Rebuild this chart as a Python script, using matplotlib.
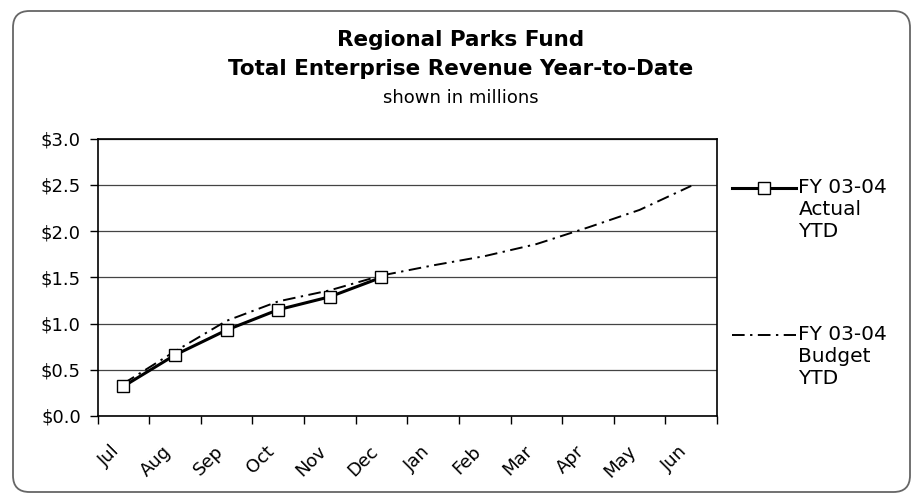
import numpy as np
import matplotlib
matplotlib.use('Agg')
import matplotlib.pyplot as plt
from matplotlib.patches import FancyBboxPatch

months = ['Jul', 'Aug', 'Sep', 'Oct', 'Nov', 'Dec',
          'Jan', 'Feb', 'Mar', 'Apr', 'May', 'Jun']
# values in millions of dollars
actual_ytd = [0.32, 0.66, 0.93, 1.15, 1.29, 1.50]
budget_ytd = [0.35, 0.70, 1.03, 1.24, 1.36, 1.52,
              1.63, 1.73, 1.86, 2.04, 2.23, 2.49]
y_ticks = [0.0, 0.5, 1.0, 1.5, 2.0, 2.5, 3.0]

plt.rcParams['font.family'] = 'DejaVu Sans'

fig = plt.figure(figsize=(9.14, 4.95), dpi=100)
ax = fig.add_axes([0.1067, 0.1596, 0.6778, 0.5601])

x_act = np.arange(len(actual_ytd))
x_bud = np.arange(len(budget_ytd))

ax.plot(x_bud, budget_ytd, color='black', lw=1.4,
        dashes=(6.5, 2.8, 1.2, 2.8), label='\n\nFY 03-04\nBudget\nYTD', zorder=3)
ax.plot(x_act, actual_ytd, color='black', lw=2.2, marker='s', ms=8,
        mfc='white', mec='black', mew=1.0, label='\n\nFY 03-04\nActual\nYTD',
        zorder=4)

ax.set_xlim(-0.5, len(months) - 0.5)
ax.set_ylim(0, 3.0)

# category boundaries carry the tick marks, labels sit in the middle
ax.set_xticks(np.arange(len(months) + 1) - 0.5)
ax.set_xticklabels([])
ax.set_xticks(np.arange(len(months)), minor=True)
ax.set_xticklabels(months, minor=True, rotation=45, ha='right', fontsize=13)
ax.tick_params(axis='x', which='major', direction='out', length=6, width=1.0)
ax.tick_params(axis='x', which='minor', length=0, pad=19)

ax.set_yticks(y_ticks)
ax.set_yticklabels(['$%.1f' % v for v in y_ticks], fontsize=13)
ax.tick_params(axis='y', direction='out', length=6, width=1.0, pad=6)

ax.yaxis.grid(True, color='#444444', lw=0.9)
ax.set_axisbelow(True)
for sp in ax.spines.values():
    sp.set_linewidth(1.2)
    sp.set_color('black')

h, l = ax.get_legend_handles_labels()
leg = fig.legend(h[::-1], l[::-1], loc='center left',
                 bbox_to_anchor=(732 / 914, 1 - 261 / 495),
                 frameon=False, fontsize=14.5, handlelength=3.2,
                 handletextpad=0.1, labelspacing=2.0, borderpad=0,
                 borderaxespad=0)

fig.text(0.504, 0.907, 'Regional Parks Fund', ha='center', va='baseline',
         fontsize=15.5, fontweight='bold')
fig.text(0.504, 0.8485, 'Total Enterprise Revenue Year-to-Date', ha='center',
         va='baseline', fontsize=15.5, fontweight='bold')
fig.text(0.504, 0.792, 'shown in millions', ha='center', va='baseline',
         fontsize=13)

# rounded chart-area border
border = FancyBboxPatch((13 / 914, 1 - 492 / 495), 897 / 914, 481 / 495,
                        boxstyle='round,pad=0,rounding_size=0.018',
                        transform=fig.transFigure, fill=False,
                        edgecolor='#666666', lw=1.3, mutation_aspect=914 / 495)
fig.patches.append(border)

fig.savefig('out.png', dpi=100)
